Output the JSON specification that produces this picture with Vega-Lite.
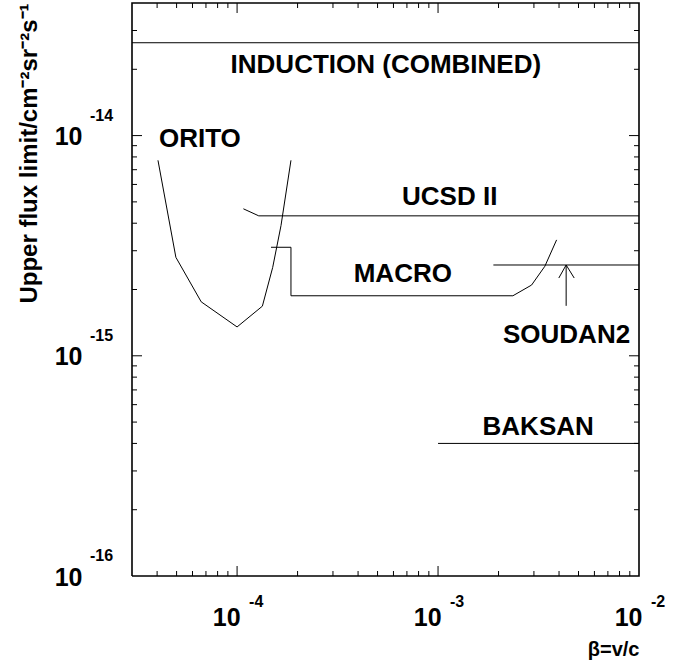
{
  "$schema": "https://vega.github.io/schema/vega-lite/v6.json",
  "width": 507,
  "height": 573,
  "autosize": {"type": "none"},
  "padding": {"left": 132, "top": 3, "right": 47, "bottom": 94},
  "background": "white",
  "config": {
    "view": {"stroke": null},
    "axis": {
      "grid": false,
      "domain": false,
      "ticks": false,
      "labelColor": "black",
      "labelFont": "Liberation Sans",
      "labelFontWeight": "bold",
      "labelOverlap": false,
      "labelFlush": false,
      "labelBound": false,
      "titleColor": "black",
      "titleFont": "Liberation Sans",
      "titleFontWeight": "bold"
    }
  },
  "datasets": {
    "limits": [
      {"series": "INDUCTION", "part": "a", "i": 1, "beta": 3e-5, "flux": 2.64e-14},
      {"series": "INDUCTION", "part": "a", "i": 2, "beta": 1e-2, "flux": 2.64e-14},
      {"series": "ORITO", "part": "a", "i": 1, "beta": 4.04e-5, "flux": 7.72e-15},
      {"series": "ORITO", "part": "a", "i": 2, "beta": 4.96e-5, "flux": 2.80e-15},
      {"series": "ORITO", "part": "a", "i": 3, "beta": 6.63e-5, "flux": 1.758e-15},
      {"series": "ORITO", "part": "a", "i": 4, "beta": 1.0e-4, "flux": 1.352e-15},
      {"series": "ORITO", "part": "a", "i": 5, "beta": 1.336e-4, "flux": 1.68e-15},
      {"series": "ORITO", "part": "a", "i": 6, "beta": 1.504e-4, "flux": 2.52e-15},
      {"series": "ORITO", "part": "a", "i": 7, "beta": 1.654e-4, "flux": 3.90e-15},
      {"series": "ORITO", "part": "a", "i": 8, "beta": 1.854e-4, "flux": 7.72e-15},
      {"series": "UCSD II", "part": "a", "i": 1, "beta": 1.075e-4, "flux": 4.65e-15},
      {"series": "UCSD II", "part": "a", "i": 2, "beta": 1.282e-4, "flux": 4.32e-15},
      {"series": "UCSD II", "part": "a", "i": 3, "beta": 1e-2, "flux": 4.32e-15},
      {"series": "MACRO", "part": "a", "i": 1, "beta": 1.475e-4, "flux": 3.11e-15},
      {"series": "MACRO", "part": "a", "i": 2, "beta": 1.854e-4, "flux": 3.11e-15},
      {"series": "MACRO", "part": "a", "i": 3, "beta": 1.854e-4, "flux": 1.873e-15},
      {"series": "MACRO", "part": "a", "i": 4, "beta": 2.358e-3, "flux": 1.873e-15},
      {"series": "MACRO", "part": "a", "i": 5, "beta": 2.92e-3, "flux": 2.095e-15},
      {"series": "MACRO", "part": "a", "i": 6, "beta": 3.40e-3, "flux": 2.55e-15},
      {"series": "MACRO", "part": "a", "i": 7, "beta": 3.89e-3, "flux": 3.36e-15},
      {"series": "SOUDAN2", "part": "a", "i": 1, "beta": 1.885e-3, "flux": 2.584e-15},
      {"series": "SOUDAN2", "part": "a", "i": 2, "beta": 1e-2, "flux": 2.584e-15},
      {"series": "SOUDAN2", "part": "shaft", "i": 1, "beta": 4.34e-3, "flux": 1.686e-15},
      {"series": "SOUDAN2", "part": "shaft", "i": 2, "beta": 4.34e-3, "flux": 2.584e-15},
      {"series": "SOUDAN2", "part": "head left", "i": 1, "beta": 3.99e-3, "flux": 2.255e-15},
      {"series": "SOUDAN2", "part": "head left", "i": 2, "beta": 4.34e-3, "flux": 2.584e-15},
      {"series": "SOUDAN2", "part": "head right", "i": 1, "beta": 4.76e-3, "flux": 2.255e-15},
      {"series": "SOUDAN2", "part": "head right", "i": 2, "beta": 4.34e-3, "flux": 2.584e-15},
      {"series": "BAKSAN", "part": "a", "i": 1, "beta": 1e-3, "flux": 4e-16},
      {"series": "BAKSAN", "part": "a", "i": 2, "beta": 1e-2, "flux": 4e-16}
    ],
    "frame": [
      {"i": 1, "beta": 3e-5, "flux": 1e-16},
      {"i": 2, "beta": 1e-2, "flux": 1e-16},
      {"i": 3, "beta": 1e-2, "flux": 4e-14},
      {"i": 4, "beta": 3e-5, "flux": 4e-14},
      {"i": 5, "beta": 3e-5, "flux": 1e-16}
    ],
    "betaTicks": [
      {"kind": "minor", "beta": 4e-5, "bottom": 1e-16, "top": 4e-14},
      {"kind": "minor", "beta": 5e-5, "bottom": 1e-16, "top": 4e-14},
      {"kind": "minor", "beta": 6e-5, "bottom": 1e-16, "top": 4e-14},
      {"kind": "minor", "beta": 7e-5, "bottom": 1e-16, "top": 4e-14},
      {"kind": "minor", "beta": 8e-5, "bottom": 1e-16, "top": 4e-14},
      {"kind": "minor", "beta": 9e-5, "bottom": 1e-16, "top": 4e-14},
      {"kind": "major", "beta": 1e-4, "bottom": 1e-16, "top": 4e-14},
      {"kind": "minor", "beta": 2e-4, "bottom": 1e-16, "top": 4e-14},
      {"kind": "minor", "beta": 3e-4, "bottom": 1e-16, "top": 4e-14},
      {"kind": "minor", "beta": 4e-4, "bottom": 1e-16, "top": 4e-14},
      {"kind": "minor", "beta": 5e-4, "bottom": 1e-16, "top": 4e-14},
      {"kind": "minor", "beta": 6e-4, "bottom": 1e-16, "top": 4e-14},
      {"kind": "minor", "beta": 7e-4, "bottom": 1e-16, "top": 4e-14},
      {"kind": "minor", "beta": 8e-4, "bottom": 1e-16, "top": 4e-14},
      {"kind": "minor", "beta": 9e-4, "bottom": 1e-16, "top": 4e-14},
      {"kind": "major", "beta": 1e-3, "bottom": 1e-16, "top": 4e-14},
      {"kind": "minor", "beta": 2e-3, "bottom": 1e-16, "top": 4e-14},
      {"kind": "minor", "beta": 3e-3, "bottom": 1e-16, "top": 4e-14},
      {"kind": "minor", "beta": 4e-3, "bottom": 1e-16, "top": 4e-14},
      {"kind": "minor", "beta": 5e-3, "bottom": 1e-16, "top": 4e-14},
      {"kind": "minor", "beta": 6e-3, "bottom": 1e-16, "top": 4e-14},
      {"kind": "minor", "beta": 7e-3, "bottom": 1e-16, "top": 4e-14},
      {"kind": "minor", "beta": 8e-3, "bottom": 1e-16, "top": 4e-14},
      {"kind": "minor", "beta": 9e-3, "bottom": 1e-16, "top": 4e-14}
    ],
    "fluxTicks": [
      {"kind": "minor", "flux": 2e-16, "left": 3e-5, "right": 1e-2},
      {"kind": "minor", "flux": 3e-16, "left": 3e-5, "right": 1e-2},
      {"kind": "minor", "flux": 4e-16, "left": 3e-5, "right": 1e-2},
      {"kind": "minor", "flux": 5e-16, "left": 3e-5, "right": 1e-2},
      {"kind": "minor", "flux": 6e-16, "left": 3e-5, "right": 1e-2},
      {"kind": "minor", "flux": 7e-16, "left": 3e-5, "right": 1e-2},
      {"kind": "minor", "flux": 8e-16, "left": 3e-5, "right": 1e-2},
      {"kind": "minor", "flux": 9e-16, "left": 3e-5, "right": 1e-2},
      {"kind": "major", "flux": 1e-15, "left": 3e-5, "right": 1e-2},
      {"kind": "minor", "flux": 2e-15, "left": 3e-5, "right": 1e-2},
      {"kind": "minor", "flux": 3e-15, "left": 3e-5, "right": 1e-2},
      {"kind": "minor", "flux": 4e-15, "left": 3e-5, "right": 1e-2},
      {"kind": "minor", "flux": 5e-15, "left": 3e-5, "right": 1e-2},
      {"kind": "minor", "flux": 6e-15, "left": 3e-5, "right": 1e-2},
      {"kind": "minor", "flux": 7e-15, "left": 3e-5, "right": 1e-2},
      {"kind": "minor", "flux": 8e-15, "left": 3e-5, "right": 1e-2},
      {"kind": "minor", "flux": 9e-15, "left": 3e-5, "right": 1e-2},
      {"kind": "major", "flux": 1e-14, "left": 3e-5, "right": 1e-2},
      {"kind": "minor", "flux": 2e-14, "left": 3e-5, "right": 1e-2},
      {"kind": "minor", "flux": 3e-14, "left": 3e-5, "right": 1e-2}
    ],
    "exponents": [
      {"axis": "x", "text": "-4", "beta": 1e-4, "flux": 1e-16},
      {"axis": "x", "text": "-3", "beta": 1e-3, "flux": 1e-16},
      {"axis": "x", "text": "-2", "beta": 1e-2, "flux": 1e-16},
      {"axis": "y", "text": "-16", "beta": 3e-5, "flux": 1e-16},
      {"axis": "y", "text": "-15", "beta": 3e-5, "flux": 1e-15},
      {"axis": "y", "text": "-14", "beta": 3e-5, "flux": 1e-14}
    ],
    "names": [
      {"label": "INDUCTION (COMBINED)", "beta": 5.5e-4, "flux": 1.916e-14},
      {"label": "ORITO", "beta": 6.53e-5, "flux": 8.91e-15},
      {"label": "UCSD II", "beta": 1.143e-3, "flux": 4.85e-15},
      {"label": "MACRO", "beta": 6.68e-4, "flux": 2.16e-15},
      {"label": "SOUDAN2", "beta": 4.36e-3, "flux": 1.14e-15},
      {"label": "BAKSAN", "beta": 3.15e-3, "flux": 4.39e-16}
    ]
  },
  "encoding": {
    "x": {
      "field": "beta", "type": "quantitative",
      "scale": {"type": "log", "domain": [3e-5, 1e-2], "nice": false},
      "axis": {
        "orient": "bottom", "values": [1e-4, 1e-3, 1e-2],
        "labelExpr": "'10'", "labelFontSize": 25, "labelAlign": "right", "labelBaseline": "alphabetic", "labelPadding": 49, "labelOffset": 3,
        "title": "β=v/c", "titleFontSize": 20, "titleX": 507, "titleY": 79, "titleAlign": "right", "titleAngle": 0, "titleBaseline": "alphabetic"
      }
    },
    "y": {
      "field": "flux", "type": "quantitative",
      "scale": {"type": "log", "domain": [1e-16, 4e-14], "nice": false},
      "axis": {
        "orient": "left", "values": [1e-16, 1e-15, 1e-14],
        "labelExpr": "'10'", "labelFontSize": 25, "labelAlign": "right", "labelBaseline": "alphabetic", "labelPadding": 50, "labelOffset": 9,
        "title": "Upper flux limit/cm⁻²sr⁻²s⁻¹", "titleFontSize": 24, "titleX": -96, "titleY": 0, "titleAlign": "right", "titleAngle": -90, "titleBaseline": "alphabetic"
      }
    }
  },
  "layer": [
    {
      "data": {"name": "frame"},
      "mark": {"type": "line", "strokeWidth": 1.6, "color": "black"},
      "encoding": {"order": {"field": "i"}}
    },
    {
      "data": {"name": "betaTicks"},
      "transform": [{"filter": "datum.kind === 'major'"}, {"fold": ["bottom", "top"], "as": ["edge", "flux"]}],
      "mark": {"type": "tick", "orient": "vertical", "color": "black", "opacity": 1, "thickness": 1, "size": 20, "clip": true}
    },
    {
      "data": {"name": "betaTicks"},
      "transform": [{"filter": "datum.kind === 'minor'"}, {"fold": ["bottom", "top"], "as": ["edge", "flux"]}],
      "mark": {"type": "tick", "orient": "vertical", "color": "black", "opacity": 1, "thickness": 1, "size": 10, "clip": true}
    },
    {
      "data": {"name": "fluxTicks"},
      "transform": [{"filter": "datum.kind === 'major'"}, {"fold": ["left", "right"], "as": ["edge", "beta"]}],
      "mark": {"type": "tick", "orient": "horizontal", "color": "black", "opacity": 1, "thickness": 1, "size": 20, "clip": true}
    },
    {
      "data": {"name": "fluxTicks"},
      "transform": [{"filter": "datum.kind === 'minor'"}, {"fold": ["left", "right"], "as": ["edge", "beta"]}],
      "mark": {"type": "tick", "orient": "horizontal", "color": "black", "opacity": 1, "thickness": 1, "size": 10, "clip": true}
    },
    {
      "data": {"name": "limits"},
      "mark": {"type": "line", "color": "black", "strokeWidth": 1},
      "encoding": {
        "detail": [{"field": "series"}, {"field": "part"}],
        "order": {"field": "i"}
      }
    },
    {
      "data": {"name": "exponents"},
      "transform": [{"filter": "datum.axis === 'x'"}],
      "mark": {"type": "text", "font": "Liberation Sans", "fontWeight": "bold", "color": "black", "fontSize": 16, "align": "left", "baseline": "alphabetic", "dx": 12, "dy": 31},
      "encoding": {"text": {"field": "text"}}
    },
    {
      "data": {"name": "exponents"},
      "transform": [{"filter": "datum.axis === 'y'"}],
      "mark": {"type": "text", "font": "Liberation Sans", "fontWeight": "bold", "color": "black", "fontSize": 16, "align": "left", "baseline": "alphabetic", "dx": -42, "dy": -15},
      "encoding": {"text": {"field": "text"}}
    },
    {
      "data": {"name": "names"},
      "mark": {"type": "text", "fontSize": 26, "align": "center", "baseline": "alphabetic", "font": "Liberation Sans", "fontWeight": "bold", "color": "black"},
      "encoding": {"text": {"field": "label"}}
    }
  ]
}
